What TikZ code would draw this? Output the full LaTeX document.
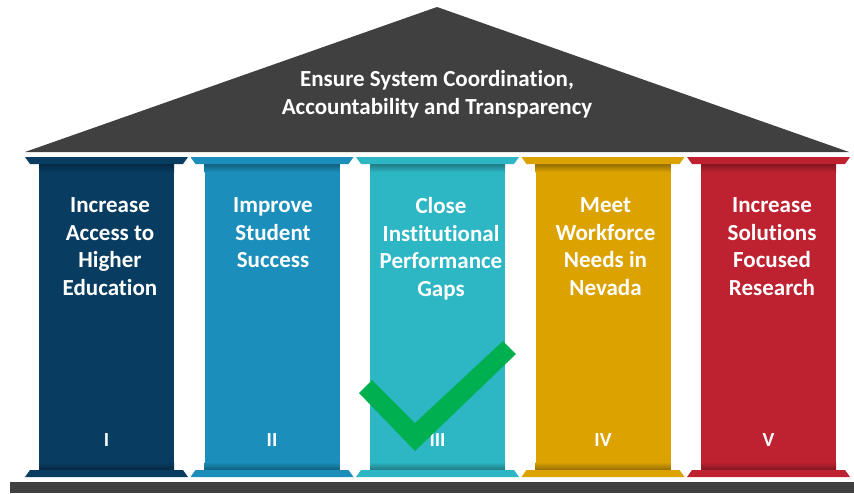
\documentclass[tikz,border=0pt]{standalone}
\usepackage{fontspec}
\setmainfont{Carlito}[Ligatures=NoCommon]
\definecolor{roofgray}{HTML}{404040}
\definecolor{pone}{HTML}{083C61}
\definecolor{ptwo}{HTML}{1B8EBB}
\definecolor{pthree}{HTML}{2DB6C4}
\definecolor{pfour}{HTML}{DBA200}
\definecolor{pfive}{HTML}{BE2130}
\definecolor{checkgreen}{HTML}{00B050}
\begin{document}
\begin{tikzpicture}[x=1pt,y=-1pt,
  pillartext/.style={text=white,font=\bfseries\fontsize{23}{27.5}\selectfont,align=center,inner sep=0pt,anchor=north},
  numeral/.style={text=white,font=\bfseries\fontsize{20}{24}\selectfont,inner sep=0pt},
  rooftext/.style={text=white,font=\bfseries\fontsize{23}{27.5}\selectfont,align=center,inner sep=0pt}]
\useasboundingbox (0,0) rectangle (854,493);
% roof
\fill[roofgray] (25,152) -- (437,7) -- (849,152) -- cycle;
\node[rooftext] (roof) at (437,94) {Ensure System Coordination,\\Accountability and Transparency};
% floor bar
\fill[roofgray] (10,482) rectangle (854,493);
% pillars
\foreach \i/\col/\tx/\num/\dx in {0/pone/{Increase\\Access to\\Higher\\Education}/I/3.5,
  1/ptwo/{Improve\\Student\\Success}/II/1,
  2/pthree/{Close\\Institutional\\Performance\\Gaps}/III/3.5,
  3/pfour/{Meet\\Workforce\\Needs in\\Nevada}/IV/2.5,
  4/pfive/{Increase\\Solutions\\Focused\\Research}/V/3.5}{
  \pgfmathsetmacro{\xo}{25+165.5*\i}
  \begin{scope}[xshift=\xo]
    % shaft
    \fill[\col] (14,163) rectangle (149,471);
    \shade[top color=\col!65!black,bottom color=\col] (14,163.5) rectangle (149,172);
    \shade[top color=\col,bottom color=\col!65!black] (14,462) rectangle (149,470.5);
    % capital
    \fill[\col] (0,157) -- (163,157) -- (158,164) -- (5,164) -- cycle;
    % base
    \fill[\col] (5,470) -- (158,470) -- (163,477) -- (0,477) -- cycle;
    \node[pillartext] (t\i) at (81.5+\dx,197.5) {\tx};
    \node[numeral] (n\i) at (81.5,440.5) {\num};
  \end{scope}
}
% check mark
\fill[checkgreen] (359,393) -- (372,380) -- (415,423) -- (503,341) -- (516,354) -- (415,451) -- cycle;
\end{tikzpicture}
\end{document}
